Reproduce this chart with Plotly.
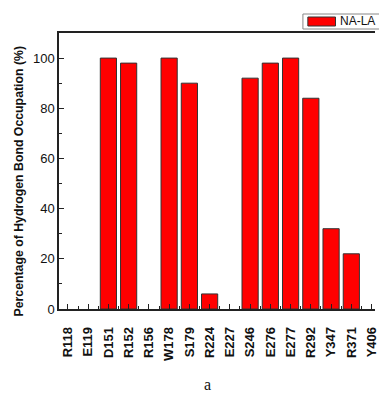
import plotly.graph_objects as go

categories = ["R118", "E119", "D151", "R152", "R156", "W178", "S179", "R224",
              "E227", "S246", "E276", "E277", "R292", "Y347", "R371", "Y406"]
values = [0, 0, 100, 98, 0, 100, 90, 6, 0, 92, 98, 100, 84, 32, 22, 0]
series_name = "NA-LA"
y_ticks = [0, 20, 40, 60, 80, 100]

W, H = 379, 394
ML, MR, MT, MB = 59, 0, 33, 85
PW, PH = W - ML - MR, H - MT - MB


def px_x(p):
    return (p - ML) / PW


def px_y(p):
    return (H - MB - p) / PH


xs = list(range(len(categories)))

fig = go.Figure()
fig.add_trace(go.Bar(
    x=xs, y=values, width=0.8, name=series_name, showlegend=False,
    marker=dict(color="#FF0000",
                line=dict(color="#333333", width=[1 if v > 0 else 0 for v in values])),
))

fig.update_layout(
    width=W, height=H,
    margin=dict(l=ML, r=MR, t=MT, b=MB, pad=0),
    paper_bgcolor="white", plot_bgcolor="white",
    font=dict(family="Arial, Liberation Sans, sans-serif", color="#111111"),
    showlegend=False,
)

fig.update_xaxes(
    range=[-0.44, 15.17],
    tickmode="array", tickvals=xs, ticktext=["<b>%s</b>" % c for c in categories],
    tickangle=-90, tickfont=dict(size=13, family="Arial, Liberation Sans, sans-serif", color="#111111"),
    ticklabelstandoff=11, ticklabeloverflow="allow",
    ticks="inside", ticklen=5, tickwidth=1, tickcolor="#222222",
    minor=dict(tickmode="array", tickvals=[i + 0.5 for i in xs[:-1]] + [-0.5],
               ticks="inside", ticklen=3, tickwidth=1, tickcolor="#222222"),
    showline=True, linecolor="#222222", linewidth=1.5, mirror=True,
    showgrid=False, zeroline=False,
)
fig.update_yaxes(
    range=[0, 110],
    tickmode="array", tickvals=y_ticks,
    tickfont=dict(size=13, color="#111111"),
    ticks="inside", ticklen=5, tickwidth=1, tickcolor="#222222",
    minor=dict(tickmode="array", tickvals=[10, 30, 50, 70, 90],
               ticks="inside", ticklen=3, tickwidth=1, tickcolor="#222222"),
    showline=True, linecolor="#222222", linewidth=1.5, mirror=False,
    showgrid=False, zeroline=False,
)

# legend box (extends past the right edge like the original)
fig.add_shape(type="rect", xref="paper", yref="paper",
              x0=px_x(306), x1=px_x(395), y0=px_y(29), y1=px_y(14),
              line=dict(color="#888888", width=1), fillcolor="white", layer="above")
fig.add_shape(type="rect", xref="paper", yref="paper",
              x0=px_x(311), x1=px_x(339), y0=px_y(26), y1=px_y(17),
              line=dict(color="#333333", width=1), fillcolor="#FF0000", layer="above")
fig.add_annotation(
    text=series_name, xref="paper", yref="paper",
    x=px_x(342), y=px_y(21.5), xanchor="left", yanchor="middle", showarrow=False,
    font=dict(size=12, family="Arial, Liberation Sans, sans-serif", color="#111111"),
)

fig.add_annotation(
    text="<b>Percentage of Hydrogen Bond Occupation (%)</b>",
    textangle=-90, xref="paper", yref="paper",
    x=px_x(18), y=px_y(181),
    xanchor="center", yanchor="middle", showarrow=False,
    font=dict(size=12.3, family="Arial, Liberation Sans, sans-serif", color="#111111"),
)
fig.add_annotation(
    text="a", xref="paper", yref="paper",
    x=px_x(209), y=px_y(385),
    xanchor="center", yanchor="middle", showarrow=False,
    font=dict(size=16, family="Liberation Serif, Times New Roman, serif", color="#111111"),
)

fig.write_html("out.html")
